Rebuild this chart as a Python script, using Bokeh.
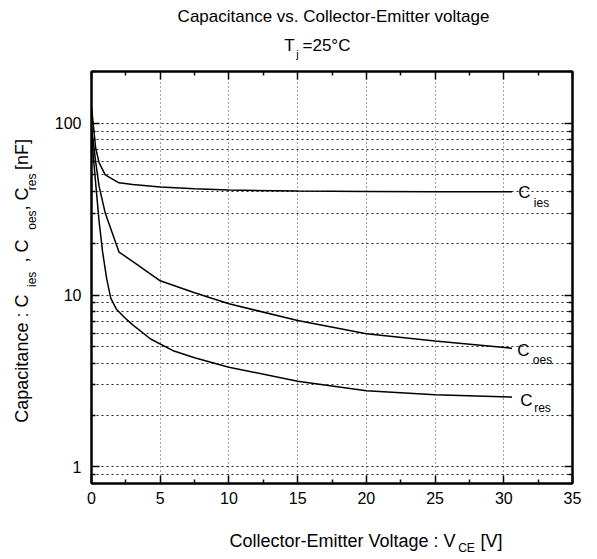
import math
from bokeh.plotting import figure
from bokeh.layouts import column, row
from bokeh.models import (FixedTicker, LinearAxis, LogAxis, Label, Range1d,
                          CustomJSTickFormatter, NumeralTickFormatter)
from bokeh.embed import file_html
from bokeh.resources import INLINE

# ---------------- data ----------------
v_ies = [0, 0.3, 0.55, 1.0, 2.0, 3.0, 5.0, 7.5, 10, 15, 20, 25, 30.6]
c_ies = [125, 72, 59, 50, 45, 44, 42.6, 41.5, 40.8, 40.3, 40.1, 39.9, 39.9]

v_oes = [0, 0.3, 0.55, 1.0, 2.0, 3.3, 5, 7.5, 10, 15, 20, 25, 30.6]
c_oes = [95, 60, 43, 30, 17.8, 15.1, 12.1, 10.3, 8.9, 7.1, 5.95, 5.4, 4.9]

v_res = [0, 0.3, 0.55, 0.8, 1.1, 1.4, 1.8, 2.4, 3.0, 4.3, 6, 7.5, 10, 15, 20, 25, 30.6]
c_res = [85, 45, 27, 18, 12.5, 9.6, 8.3, 7.4, 6.7, 5.55, 4.72, 4.32, 3.8, 3.15, 2.77, 2.63, 2.55]

x_ticks = [0, 5, 10, 15, 20, 25, 30, 35]
x_minor = [2.5, 7.5, 12.5, 17.5, 22.5, 27.5, 32.5]
y_ticks = [1, 10, 100]
y_minor = [0.8, 0.9, 2, 3, 4, 5, 6, 7, 8, 9, 20, 30, 40, 50, 60, 70, 80, 90, 200]

X_MIN, X_MAX = 0, 35
Y_MIN, Y_MAX = 0.8, 200

FONT = "Liberation Sans"

# ---------------- layout (page px) ----------------
W, H = 597, 559
TOP_H = 63            # title strip
LEFT_W = 45           # y-label strip
MAIN_W = W - LEFT_W
MAIN_BOTTOM = 515
MAIN_H = MAIN_BOTTOM - TOP_H
BOT_H = H - MAIN_BOTTOM
# frame edges inside main figure (page frame: 91..572 x 71..483)
FL, FR, FT, FB = 91 - LEFT_W, 572 - LEFT_W, 71 - TOP_H, 483 - TOP_H

p = figure(width=MAIN_W, height=MAIN_H, output_backend="svg", toolbar_location=None,
           y_axis_type="log", x_range=Range1d(X_MIN, X_MAX),
           y_range=Range1d(Y_MIN, Y_MAX),
           min_border_left=FL, min_border_right=MAIN_W - FR,
           min_border_top=FT, min_border_bottom=MAIN_H - FB,
           background_fill_color="white", border_fill_color="white")
p.outline_line_color = "black"
p.outline_line_width = 2

xt = FixedTicker(ticks=x_ticks, minor_ticks=x_minor)
yt = FixedTicker(ticks=y_ticks, minor_ticks=y_minor)


def style_axis(ax, labels=True):
    ax.axis_line_color = "black"
    ax.axis_line_width = 2
    ax.major_tick_in = 8
    ax.major_tick_out = 0
    ax.minor_tick_in = 4
    ax.minor_tick_out = 0
    ax.major_tick_line_color = "black"
    ax.major_tick_line_width = 1.5
    ax.minor_tick_line_color = "black"
    ax.minor_tick_line_width = 1.5
    ax.major_label_text_font = FONT
    ax.major_label_text_font_size = "16px"
    ax.major_label_text_color = "black"
    if not labels:
        ax.formatter = CustomJSTickFormatter(code="return ''")
        ax.major_label_text_font_size = "0px"
        ax.major_label_standoff = 0


p.xaxis.ticker = xt
p.yaxis.ticker = yt
p.yaxis.formatter = NumeralTickFormatter(format="0")
style_axis(p.xaxis[0])
style_axis(p.yaxis[0])
p.xaxis.major_label_standoff = 8
p.yaxis.major_label_standoff = 10

top = LinearAxis(ticker=FixedTicker(ticks=x_ticks, minor_ticks=x_minor))
style_axis(top, labels=False)
p.add_layout(top, "above")
right = LogAxis(ticker=FixedTicker(ticks=y_ticks, minor_ticks=y_minor))
style_axis(right, labels=False)
p.add_layout(right, "right")

# grids
p.xgrid.ticker = FixedTicker(ticks=x_ticks[1:-1])
p.xgrid.grid_line_color = "#444444"
p.xgrid.grid_line_dash = "1 3"
p.xgrid.grid_line_width = 1
p.ygrid.ticker = yt
p.ygrid.grid_line_color = "#222222"
p.ygrid.grid_line_dash = "2 3"
p.ygrid.grid_line_width = 1
p.ygrid.minor_grid_line_color = "#222222"
p.ygrid.minor_grid_line_dash = "2 3"
p.ygrid.minor_grid_line_width = 1

# curves
for vx, cy in ((v_ies, c_ies), (v_oes, c_oes), (v_res, c_res)):
    p.line(vx, cy, line_color="black", line_width=1.5)


def to_data(px, py):
    """page pixel -> main-figure data coordinates (for annotation placement)"""
    px -= LEFT_W
    py -= TOP_H
    x = X_MIN + (px - FL) / (FR - FL) * (X_MAX - X_MIN)
    ly = math.log10(Y_MIN) + (FB - py) / (FB - FT) * (math.log10(Y_MAX) - math.log10(Y_MIN))
    return x, 10 ** ly


def lbl(fig, text, x, y, size="16px", align="center", angle=0.0):
    fig.add_layout(Label(x=x, y=y, text=text, text_font=FONT, text_font_size=size,
                         text_align=align, text_baseline="middle", angle=angle,
                         text_color="black"))


def curve_lbl(text, px, py, size):
    x, y = to_data(px, py)
    lbl(p, text, x, y, size)


# curve labels (page pixel positions)
curve_lbl("C", 524, 192, "17px")
curve_lbl("ies", 541, 202, "12px")
curve_lbl("C", 523, 350, "17px")
curve_lbl("oes", 542, 359, "12px")
curve_lbl("C", 526, 400, "17px")
curve_lbl("res", 542, 407, "12px")


def text_fig(w, h):
    f = figure(width=w, height=h, output_backend="svg", toolbar_location=None,
               x_range=Range1d(0, w), y_range=Range1d(h, 0),
               min_border=0, x_axis_location=None, y_axis_location=None,
               background_fill_color="white", border_fill_color="white")
    f.outline_line_color = None
    f.grid.visible = False
    return f


# title strip (page pixel coordinates, y downward)
t = text_fig(W, TOP_H)
lbl(t, "Capacitance vs. Collector-Emitter voltage", 333, 16, "17px")
lbl(t, "T", 289, 45, "17px")
lbl(t, "j", 297, 53, "11px")
lbl(t, "=25°C", 302, 45, "17px", align="left")

# y-label strip (rotated text reads upward)
R = math.pi / 2
lft = text_fig(LEFT_W, MAIN_H)
Y0 = TOP_H
lbl(lft, "Capacitance : C", 21, 378 - Y0, "18px", angle=R)
lbl(lft, "ies", 31, 291 - Y0, "12px", angle=R)
lbl(lft, ", C", 21, 260 - Y0, "18px", angle=R)
lbl(lft, "oes", 31, 226 - Y0, "12px", angle=R)
lbl(lft, ", C", 21, 203 - Y0, "18px", angle=R)
lbl(lft, "res", 31, 184 - Y0, "12px", angle=R)
lbl(lft, "[nF]", 21, 154 - Y0, "18px", angle=R)

# x-label strip
b = text_fig(W, BOT_H)
Yb = MAIN_BOTTOM
lbl(b, "Collector-Emitter Voltage : V", 455, 540 - Yb, "18px", align="right")
lbl(b, "CE", 466, 547 - Yb, "12px")
lbl(b, "[V]", 480, 540 - Yb, "18px", align="left")

layout = column(t, row(lft, p, spacing=0), b, spacing=0)

open("out.html", "w").write(file_html(layout, INLINE))
